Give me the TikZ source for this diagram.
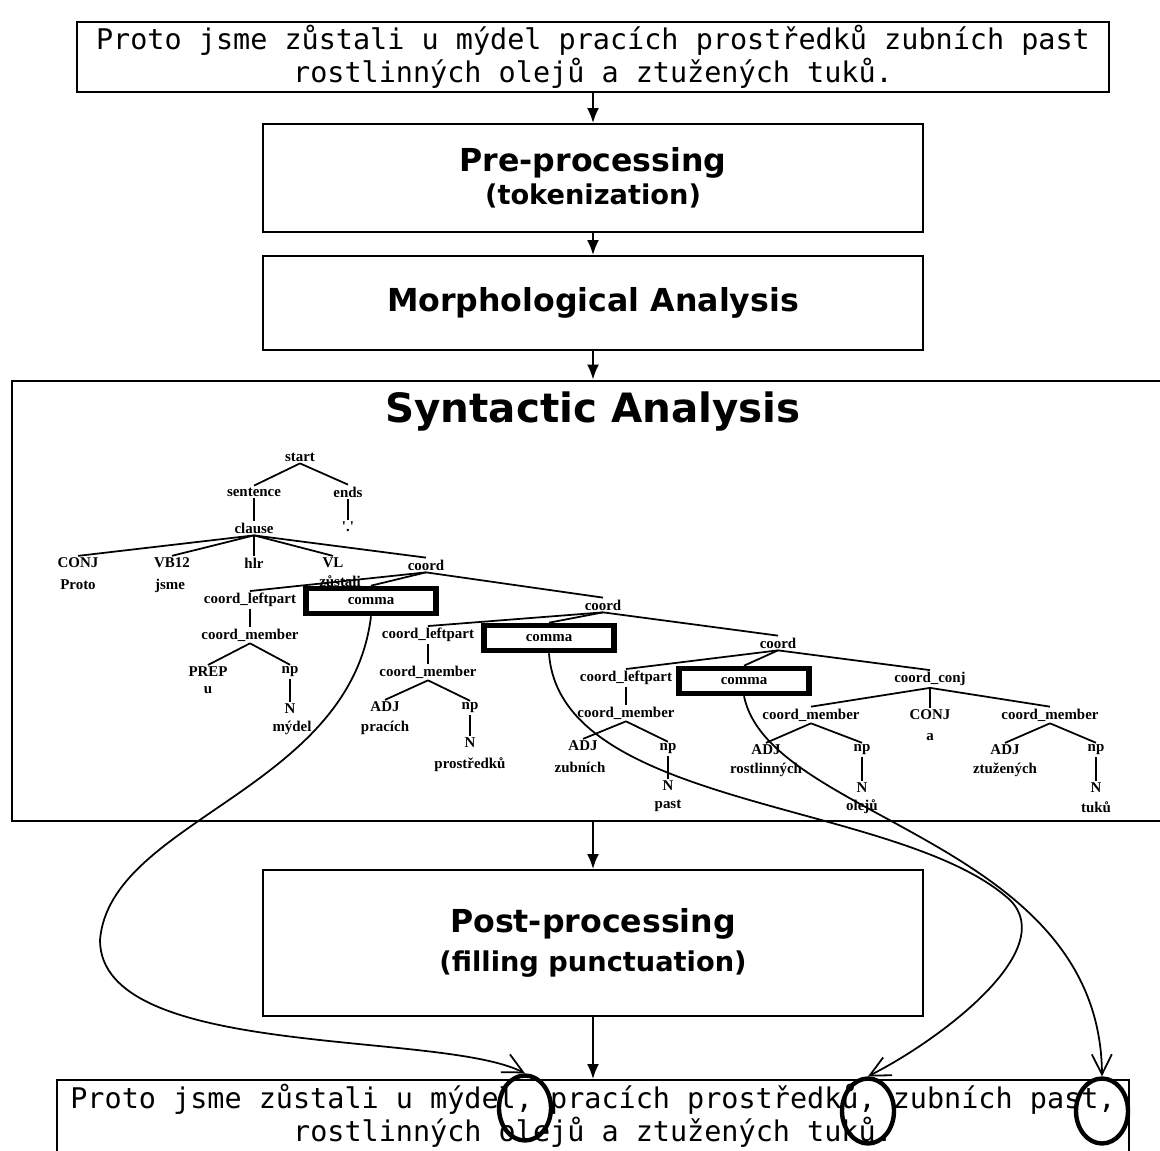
\documentclass[tikz,border=0pt]{standalone}
\usepackage{fontspec}
\setmainfont{DejaVu Sans}
\newfontfamily\monofont{DejaVu Sans Mono}
\newfontfamily\treefont{Liberation Serif}
\usetikzlibrary{arrows.meta,shapes.geometric}

\begin{document}
\begin{tikzpicture}[x=0.02cm,y=-0.02cm,
  stage/.style={draw,line width=1.1pt,minimum width=13.2cm,align=center,
    font=\bfseries\fontsize{18}{21}\selectfont},
  sentence/.style={draw,line width=1.1pt,align=center,inner sep=0pt,
    font=\monofont\fontsize{16.2}{18.5}\selectfont},
  lbl/.style={font=\treefont\bfseries\fontsize{8.5}{9}\selectfont,inner sep=1pt},
  commabox/.style={lbl,draw,line width=3.2pt,minimum width=2.6cm,minimum height=0.5cm},
  branch/.style={line width=1pt},
  flow/.style={-{Latex[length=3mm,width=2.4mm]},line width=1.1pt},
  hint/.style={-{Straight Barb[length=4mm,width=4mm]},line width=1pt},
  ring/.style={draw,ellipse,line width=2.5pt,minimum width=1.04cm,minimum height=1.3cm}]
\useasboundingbox (0,0) rectangle (1160,1151);
\clip (0,0) rectangle (1160,1151);
\node[sentence,minimum width=20.64cm,minimum height=1.4cm] (source) at (593,57)
  {Proto jsme zůstali u mýdel pracích prostředků zubních past\\rostlinných olejů a ztužených tuků.};
\node[stage,minimum height=2.16cm] (pre) at (593,178)
  {Pre-processing\\[-2pt]{\fontsize{15.5}{18}\selectfont(tokenization)}};
\node[stage,minimum height=1.88cm] (morph) at (593,303) {Morphological Analysis};
\node[draw,line width=1.1pt,minimum width=23.24cm,minimum height=8.82cm] (syn) at (593,601) {};
\node[font=\bfseries\fontsize{23}{26}\selectfont] (syntitle) at (593,412) {Syntactic Analysis};
\node[stage,minimum height=2.92cm] (post) at (593,943)
  {Post-processing\\[1pt]{\fontsize{15.5}{18}\selectfont(filling punctuation)}};
\node[sentence,minimum width=21.46cm,minimum height=1.44cm] (result) at (593,1116)
  {Proto jsme zůstali u mýdel, pracích prostředků, zubních past,\\rostlinných olejů a ztužených tuků.};
\draw[flow] (source) -- (pre);
\draw[flow] (pre) -- (morph);
\draw[flow] (morph) -- (syn);
\draw[flow] (syn) -- (post);
\draw[flow] (post) -- (result);

\node[lbl] (start) at (300,457) {start};
\node[lbl] (sent) at (254,492) {sentence};
\node[lbl] (ends) at (348,492) {ends};
\node[lbl] (clause) at (254,528) {clause};
\node[lbl] (stop) at (348,527) {'.'};
\node[lbl] (conj) at (78,563) {CONJ};
\node[lbl] (vb) at (172,563) {VB12};
\node[lbl] (hlr) at (254,563) {hlr};
\node[lbl] (vl) at (333,563) {VL};
\node[lbl] (crdA) at (426,565) {coord};
\node[lbl] (wProto) at (78,585) {Proto};
\node[lbl] (wJsme) at (170,586) {jsme};
\node[lbl] (wZust) at (340,581) {zůstali};
\node[lbl] (lpA) at (250,600) {coord\_leftpart};
\node[commabox] (cmA) at (371,601) {comma};
\node[lbl] (crdB) at (603,605) {coord};
\node[lbl] (memA) at (250,635) {coord\_member};
\node[lbl] (prep) at (208,672) {PREP};
\node[lbl] (npA) at (290,672) {np};
\node[lbl] (wU) at (208,690) {u};
\node[lbl] (nA) at (290,709) {N};
\node[lbl] (wMydel) at (292,728) {mýdel};
\node[lbl] (lpB) at (428,635) {coord\_leftpart};
\node[commabox] (cmB) at (549,638) {comma};
\node[lbl] (crdC) at (778,643) {coord};
\node[lbl] (memB) at (428,672) {coord\_member};
\node[lbl] (adjB) at (385,707) {ADJ};
\node[lbl] (npB) at (470,708) {np};
\node[lbl] (wPrac) at (385,728) {pracích};
\node[lbl] (nB) at (470,743) {N};
\node[lbl] (wProst) at (470,765) {prostředků};
\node[lbl] (lpC) at (626,678) {coord\_leftpart};
\node[commabox] (cmC) at (744,681) {comma};
\node[lbl] (conjC) at (930,679) {coord\_conj};
\node[lbl] (memC) at (626,713) {coord\_member};
\node[lbl] (adjC) at (583,746) {ADJ};
\node[lbl] (npC) at (668,749) {np};
\node[lbl] (wZub) at (580,767) {zubních};
\node[lbl] (nC) at (668,786) {N};
\node[lbl] (wPast) at (668,806) {past};
\node[lbl] (memD) at (811,715) {coord\_member};
\node[lbl] (conjD) at (930,715) {CONJ};
\node[lbl] (memE) at (1050,715) {coord\_member};
\node[lbl] (adjD) at (766,750) {ADJ};
\node[lbl] (npD) at (862,750) {np};
\node[lbl] (wRost) at (766,770) {rostlinných};
\node[lbl] (nD) at (862,788) {N};
\node[lbl] (wOlej) at (862,807) {olejů};
\node[lbl] (wA) at (930,737) {a};
\node[lbl] (adjE) at (1005,750) {ADJ};
\node[lbl] (npE) at (1096,750) {np};
\node[lbl] (wZtuz) at (1005,770) {ztužených};
\node[lbl] (nE) at (1096,788) {N};
\node[lbl] (wTuk) at (1096,807) {tuků};
\foreach \p/\c in {start/sent,start/ends,sent/clause,ends/stop,
    clause/conj,clause/vb,clause/hlr,clause/vl,clause/crdA,
    crdA/lpA,crdA/cmA,crdA/crdB,lpA/memA,memA/prep,memA/npA,npA/nA,
    crdB/lpB,crdB/cmB,crdB/crdC,lpB/memB,memB/adjB,memB/npB,npB/nB,
    crdC/lpC,crdC/cmC,crdC/conjC,lpC/memC,memC/adjC,memC/npC,npC/nC,
    conjC/memD,conjC/conjD,conjC/memE,memD/adjD,memD/npD,npD/nD,
    memE/adjE,memE/npE,npE/nE}
  \draw[branch] (\p.south) -- (\c.north);

\node[ring] (ringA) at (525,1108) {};
\node[ring] (ringB) at (868,1111) {};
\node[ring] (ringC) at (1102,1111) {};
\draw[hint] (cmA.south) .. controls (350,790) and (110,820) .. (100,940)
  .. controls (100,1060) and (440,1030) .. (ringA.north);
\draw[hint] (cmB.south) .. controls (560,810) and (900,800) .. (1010,900)
  .. controls (1060,950) and (940,1040) .. (ringB.north);
\draw[hint] (cmC.south) .. controls (770,820) and (1100,840) .. (ringC.north);
\end{tikzpicture}
\end{document}
